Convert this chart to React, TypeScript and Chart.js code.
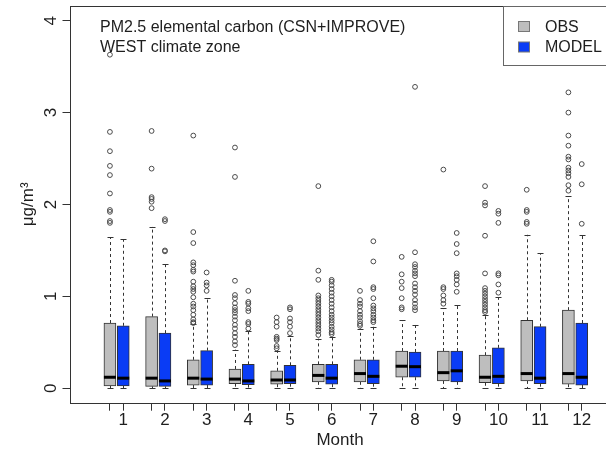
import React, { useEffect, useRef } from 'react';
import { Chart, registerables } from 'chart.js';

Chart.register(...registerables);

// ---------------- data ----------------
const months = [1, 2, 3, 4, 5, 6, 7, 8, 9, 10, 11, 12];

const obsLow = [0, 0, 0, 0, 0, 0, 0, 0, 0, 0, 0, 0];
const obsQ1 = [0.025, 0.02, 0.035, 0.05, 0.045, 0.07, 0.07, 0.12, 0.08, 0.06, 0.08, 0.045];
const obsMedian = [0.12, 0.11, 0.11, 0.1, 0.09, 0.14, 0.16, 0.24, 0.17, 0.12, 0.16, 0.16];
const obsQ3 = [0.71, 0.78, 0.31, 0.21, 0.19, 0.26, 0.31, 0.405, 0.405, 0.36, 0.74, 0.85];
const obsHigh = [1.645, 1.76, 0.7, 0.42, 0.41, 0.54, 0.65, 0.74, 0.87, 0.8, 1.67, 2.09];

const modelLow = [0, 0, 0, 0, 0, 0, 0, 0, 0, 0, 0, 0];
const modelQ1 = [0.025, 0.02, 0.035, 0.04, 0.05, 0.045, 0.05, 0.12, 0.07, 0.05, 0.05, 0.035];
const modelMedian = [0.11, 0.08, 0.1, 0.08, 0.09, 0.11, 0.13, 0.235, 0.19, 0.13, 0.11, 0.12];
const modelQ3 = [0.68, 0.6, 0.41, 0.26, 0.25, 0.26, 0.31, 0.395, 0.405, 0.44, 0.67, 0.71];
const modelHigh = [1.62, 1.35, 0.98, 0.62, 0.57, 0.56, 0.67, 0.69, 0.905, 0.99, 1.47, 1.67];

const obsOutliers: number[][] = [
  [3.63, 2.79, 2.58, 2.42, 2.32, 2.12, 1.94, 1.92, 1.82, 1.8],
  [2.8, 2.39, 2.08, 2.06, 2.03, 1.96],
  [2.75, 1.7, 1.58, 1.37, 1.34, 1.29, 1.27, 1.16, 1.11, 1.08, 1.05, 0.99, 0.92, 0.89, 0.85, 0.8, 0.75, 0.72, 0.71],
  [2.62, 2.3, 1.17, 1.015, 0.98, 0.925, 0.88, 0.85, 0.82, 0.78, 0.74, 0.69, 0.65, 0.6, 0.56, 0.51, 0.47],
  [0.77, 0.72, 0.67, 0.56, 0.54, 0.525, 0.46, 0.435],
  [2.2, 1.28, 1.18, 1.01, 0.98, 0.95, 0.92, 0.89, 0.86, 0.83, 0.8, 0.77, 0.74, 0.71, 0.68, 0.65, 0.62, 0.58],
  [1.06, 0.96, 0.92, 0.89, 0.84, 0.8, 0.77, 0.73, 0.7, 0.68],
  [1.43, 1.24, 1.16, 1.09, 0.98, 0.88, 0.86],
  [2.38, 1.1, 1.08, 1.01, 0.96, 0.92],
  [2.2, 2.02, 1.99, 1.66, 1.25, 1.09, 1.06, 1.03, 1.0, 0.97, 0.94, 0.91, 0.88, 0.85, 0.83],
  [2.16, 1.94, 1.92, 1.81, 1.79],
  [3.22, 3.0, 2.75, 2.64, 2.52, 2.49, 2.4, 2.37, 2.34, 2.3, 2.21, 2.15],
];

const modelOutliers: number[][] = [
  [],
  [1.84, 1.82, 1.5, 1.49],
  [1.26, 1.15, 1.12, 1.06],
  [1.06, 0.94, 0.92, 0.87, 0.84, 0.72, 0.7, 0.65],
  [0.88, 0.86, 0.76, 0.72, 0.67, 0.6],
  [1.18, 1.16, 1.12, 1.08, 1.04, 1.0, 0.96, 0.92, 0.88, 0.84, 0.8, 0.77, 0.74, 0.71, 0.67, 0.64, 0.61, 0.59],
  [1.6, 1.38, 1.1, 1.08, 0.98, 0.9, 0.87, 0.84, 0.8, 0.77, 0.74, 0.72],
  [3.28, 1.48, 1.35, 1.32, 1.28, 1.25, 1.22, 1.14, 1.1, 1.06, 1.02, 0.96, 0.92, 0.88, 0.85],
  [1.69, 1.57, 1.47, 1.25, 1.22, 1.18, 1.13, 1.05],
  [1.93, 1.9, 1.8, 1.25, 1.23, 1.13, 1.04],
  [],
  [2.44, 2.22, 1.79],
];

const yTickValues = [0, 1, 2, 3, 4];
const seriesNames = ['OBS', 'MODEL'];
const annotationLines = ['PM2.5 elemental carbon (CSN+IMPROVE)', 'WEST climate zone'];
const xAxisTitle = 'Month';
const yAxisTitle = 'μg/m³';

// ---------------- styles ----------------
const OBS_SHIFT = -0.32;
const OBS_FILL = '#bebebe';
const MODEL_FILL = '#0a3cf5';
const INK = '#1e1e1e';
const LINE = '#333333';
const FONT = "'Liberation Sans', Arial, Helvetica, sans-serif";
const BOX_W = 12;

const boxExtras = {
  id: 'boxExtras',
  beforeDatasetsDraw(chart: any) {
    const { ctx, scales } = chart;
    const xs = scales.x;
    const ys = scales.y;
    const groups = [
      { shift: OBS_SHIFT, low: obsLow, q1: obsQ1, q3: obsQ3, high: obsHigh },
      { shift: 0, low: modelLow, q1: modelQ1, q3: modelQ3, high: modelHigh },
    ];
    ctx.save();
    ctx.strokeStyle = LINE;
    ctx.lineWidth = 1;
    groups.forEach((g) => {
      months.forEach((m, i) => {
        const x = Math.round(xs.getPixelForValue(m + g.shift)) + 0.5;
        const pHigh = ys.getPixelForValue(g.high[i]);
        const pLow = ys.getPixelForValue(g.low[i]);
        const pQ3 = ys.getPixelForValue(g.q3[i]);
        const pQ1 = ys.getPixelForValue(g.q1[i]);
        ctx.setLineDash([3, 3]);
        ctx.beginPath();
        ctx.moveTo(x, pQ3);
        ctx.lineTo(x, pHigh);
        ctx.moveTo(x, pQ1);
        ctx.lineTo(x, pLow);
        ctx.stroke();
        ctx.setLineDash([]);
        ctx.beginPath();
        ctx.moveTo(x - 3, Math.round(pHigh) + 0.5);
        ctx.lineTo(x + 3, Math.round(pHigh) + 0.5);
        ctx.moveTo(x - 3, Math.round(pLow) + 0.5);
        ctx.lineTo(x + 3, Math.round(pLow) + 0.5);
        ctx.stroke();
      });
    });
    ctx.restore();
  },
  afterDatasetsDraw(chart: any) {
    const { ctx, scales } = chart;
    const xs = scales.x;
    const ys = scales.y;
    const groups = [
      { shift: OBS_SHIFT, med: obsMedian },
      { shift: 0, med: modelMedian },
    ];
    ctx.save();
    ctx.strokeStyle = '#000';
    ctx.lineWidth = 3;
    groups.forEach((g) => {
      months.forEach((m, i) => {
        const x = xs.getPixelForValue(m + g.shift);
        const y = ys.getPixelForValue(g.med[i]);
        ctx.beginPath();
        ctx.moveTo(x - BOX_W / 2, y);
        ctx.lineTo(x + BOX_W / 2, y);
        ctx.stroke();
      });
    });
    ctx.restore();
  },
  afterDraw(chart: any) {
    const { ctx, chartArea, scales } = chart;
    const ys = scales.y;
    ctx.save();
    // frame
    ctx.strokeStyle = LINE;
    ctx.lineWidth = 1;
    const l = Math.round(chartArea.left) + 0.5;
    const t = Math.round(chartArea.top) + 0.5;
    const b = Math.round(chartArea.bottom) + 0.5;
    const r = Math.round(chartArea.right) + 0.5;
    ctx.strokeRect(l, t, r - l, b - t);

    // y tick labels (rotated like R)
    ctx.fillStyle = INK;
    ctx.font = `17px ${FONT}`;
    ctx.textAlign = 'center';
    ctx.textBaseline = 'middle';
    yTickValues.forEach((v) => {
      const py = ys.getPixelForValue(v);
      ctx.save();
      ctx.translate(51, py);
      ctx.rotate(-Math.PI / 2);
      ctx.fillText(String(v), 0, 0);
      ctx.restore();
    });

    // annotation text
    ctx.textAlign = 'left';
    ctx.textBaseline = 'alphabetic';
    ctx.font = `16px ${FONT}`;
    annotationLines.forEach((line, i) => {
      ctx.fillText(line, 100, 32 + i * 19.7);
    });

    // legend box
    const lx = 503.5;
    ctx.fillStyle = '#ffffff';
    ctx.fillRect(lx, t, 200, 65.5 - t);
    ctx.strokeStyle = '#666';
    ctx.strokeRect(lx, t, 200, 65.5 - t);
    const fills = [OBS_FILL, MODEL_FILL];
    seriesNames.forEach((name, i) => {
      const sy = 21.5 + i * 20.5;
      ctx.fillStyle = fills[i];
      ctx.fillRect(518.5, sy, 11, 10);
      ctx.strokeStyle = '#777';
      ctx.strokeRect(518.5, sy, 11, 10);
      ctx.fillStyle = INK;
      ctx.font = `16px ${FONT}`;
      ctx.fillText(name, 545, 32.3 + i * 20);
    });
    ctx.restore();
  },
};

function toPoints(lists: number[][], shift: number) {
  const pts: { x: number; y: number }[] = [];
  lists.forEach((vals, i) => {
    vals.forEach((v) => pts.push({ x: months[i] + shift, y: v }));
  });
  return pts;
}

export default function App() {
  const canvasRef = useRef<HTMLCanvasElement | null>(null);

  useEffect(() => {
    const canvas = canvasRef.current;
    if (!canvas) return;
    const chart = new Chart(canvas, {
      type: 'bar',
      data: {
        datasets: [
          {
            type: 'bar',
            label: seriesNames[0],
            data: months.map((m, i) => ({ x: m + OBS_SHIFT, y: [obsQ1[i], obsQ3[i]] })) as any,
            backgroundColor: OBS_FILL,
            borderColor: LINE,
            borderWidth: 1,
            borderSkipped: false,
            barThickness: BOX_W,
            grouped: false,
            order: 2,
          } as any,
          {
            type: 'bar',
            label: seriesNames[1],
            data: months.map((m, i) => ({ x: m, y: [modelQ1[i], modelQ3[i]] })) as any,
            backgroundColor: MODEL_FILL,
            borderColor: LINE,
            borderWidth: 1,
            borderSkipped: false,
            barThickness: BOX_W,
            grouped: false,
            order: 2,
          } as any,
          {
            type: 'scatter',
            label: 'obs outliers',
            data: toPoints(obsOutliers, OBS_SHIFT),
            pointStyle: 'circle',
            pointRadius: 2.4,
            borderColor: '#4a4a4a',
            borderWidth: 1,
            backgroundColor: 'rgba(0,0,0,0)',
            order: 1,
          } as any,
          {
            type: 'scatter',
            label: 'model outliers',
            data: toPoints(modelOutliers, 0),
            pointStyle: 'circle',
            pointRadius: 2.4,
            borderColor: '#4a4a4a',
            borderWidth: 1,
            backgroundColor: 'rgba(0,0,0,0)',
            order: 1,
          } as any,
        ],
      },
      options: {
        animation: false,
        responsive: false,
        devicePixelRatio: 1,
        events: [],
        layout: { padding: { left: 0, top: 6, right: 29.5, bottom: 0 } },
        plugins: {
          legend: { display: false },
          tooltip: { enabled: false },
        },
        scales: {
          x: {
            type: 'linear',
            offset: false,
            min: -0.29,
            max: 12.69,
            afterBuildTicks: (scale: any) => {
              const ticks: { value: number }[] = [];
              months.forEach((m) => {
                ticks.push({ value: m + OBS_SHIFT });
                ticks.push({ value: m });
              });
              scale.ticks = ticks;
            },
            afterFit: (scale: any) => {
              scale.height = 51.3;
            },
            grid: {
              display: true,
              offset: false,
              drawOnChartArea: false,
              drawTicks: true,
              tickLength: 8,
              tickColor: LINE,
              color: LINE,
            },
            border: { display: false },
            ticks: {
              autoSkip: false,
              maxRotation: 0,
              minRotation: 0,
              padding: -1,
              color: INK,
              font: { family: FONT, size: 17 },
              callback: (v: any) => (Number.isInteger(v) ? String(v) : ''),
            },
            title: {
              display: true,
              text: xAxisTitle,
              color: INK,
              font: { family: FONT, size: 17 },
              padding: { top: 0, bottom: 3 },
            },
          },
          y: {
            type: 'linear',
            min: -0.157,
            max: 4.16,
            afterBuildTicks: (scale: any) => {
              scale.ticks = yTickValues.map((v) => ({ value: v }));
            },
            afterFit: (scale: any) => {
              scale.width = 69.5;
            },
            grid: {
              display: true,
              drawOnChartArea: false,
              drawTicks: true,
              tickLength: 7,
              tickColor: LINE,
              color: LINE,
            },
            border: { display: false },
            ticks: { display: false },
            title: {
              display: true,
              text: yAxisTitle,
              color: INK,
              font: { family: FONT, size: 17 },
              padding: { top: 18, bottom: 0 },
            },
          },
        },
      } as any,
      plugins: [boxExtras],
    });
    return () => chart.destroy();
  }, []);

  return (
    <div
      style={{
        position: 'fixed',
        left: 0,
        top: 0,
        width: 606,
        height: 454,
        overflow: 'hidden',
        background: '#fff',
      }}
    >
      <canvas
        ref={canvasRef}
        width={640}
        height={454}
        style={{ display: 'block', width: 640, height: 454 }}
      />
    </div>
  );
}
